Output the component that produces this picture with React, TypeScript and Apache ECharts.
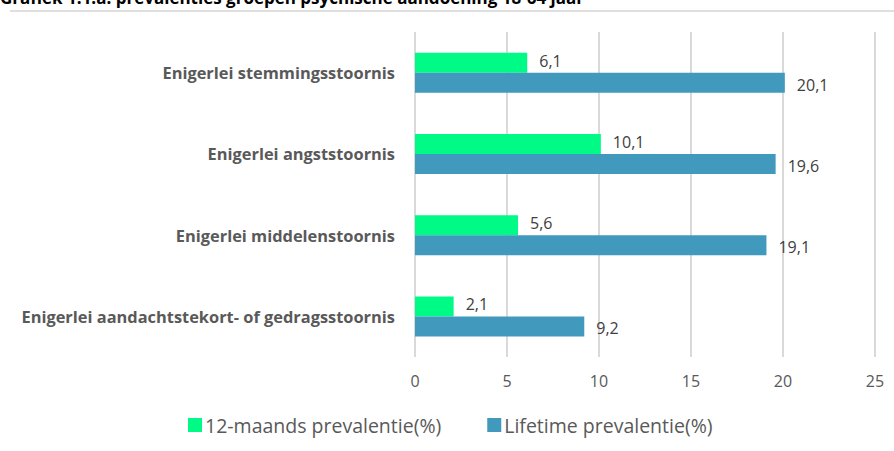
import React, { useEffect, useRef } from "react";
import * as echarts from "echarts";

const categories = [
  "Enigerlei stemmingsstoornis",
  "Enigerlei angststoornis",
  "Enigerlei middelenstoornis",
  "Enigerlei aandachtstekort- of gedragsstoornis",
];
const twelveMonth = [6.1, 10.1, 5.6, 2.1];
const lifetime = [20.1, 19.6, 19.1, 9.2];
const seriesNames = ["12-maands prevalentie(%)", "Lifetime prevalentie(%)"];
const titleText = "Grafiek 1.1.a. prevalenties groepen psychische aandoening 18-64 jaar";

const FONT = "'Open Sans', 'Liberation Sans', sans-serif";

export default function App() {
  const ref = useRef<HTMLDivElement>(null);
  useEffect(() => {
    if (!ref.current) return;
    const chart = echarts.init(ref.current, null, { renderer: "svg" });
    const fmt = (p: any) => String(p.value).replace(".", ",");
    chart.setOption({
      animation: false,
      textStyle: { fontFamily: FONT },
      title: {
        text: titleText,
        left: -5,
        top: -16,
        textStyle: { fontSize: 17, fontWeight: "bold", color: "#000", fontFamily: FONT },
      },
      graphic: [
        {
          type: "line",
          shape: { x1: 10, y1: 11, x2: 894, y2: 11 },
          style: { stroke: "#d4d4d4", lineWidth: 1.5 },
        },
      ],
      legend: {
        bottom: 11,
        left: 183,
        itemWidth: 14,
        itemHeight: 14,
        itemGap: 46,
        icon: "rect",
        textStyle: { fontSize: 19.5, color: "#595959", fontFamily: FONT, padding: [0, 0, 0, -2] },
        data: seriesNames,
      },
      grid: { left: 415, right: 19, top: 32, bottom: 94 },
      xAxis: {
        type: "value",
        min: 0,
        max: 25,
        interval: 5,
        axisLine: { show: false },
        axisTick: { show: false },
        axisLabel: { fontSize: 16, color: "#595959", margin: 16 },
        splitLine: { lineStyle: { color: "#d9d9d9", width: 2 } },
      },
      yAxis: {
        type: "category",
        inverse: true,
        data: categories,
        axisLine: { show: false },
        axisTick: { show: false },
        axisLabel: { fontSize: 16.4, fontWeight: "bold", color: "#595959", margin: 20 },
      },
      series: [
        {
          name: seriesNames[0],
          type: "bar",
          data: twelveMonth,
          barWidth: 20,
          barGap: "0%",
          itemStyle: { color: "#00fa86" },
          label: {
            show: true,
            position: "right",
            distance: 12,
            offset: [0, -2],
            fontSize: 16,
            color: "#404040",
            formatter: fmt,
          },
        },
        {
          name: seriesNames[1],
          type: "bar",
          data: lifetime,
          barWidth: 20,
          barGap: "0%",
          itemStyle: { color: "#4299be" },
          label: {
            show: true,
            position: "right",
            distance: 12,
            offset: [0, 2],
            fontSize: 16,
            color: "#404040",
            formatter: fmt,
          },
        },
      ],
    });
    return () => chart.dispose();
  }, []);
  return (
    <div
      ref={ref}
      style={{ position: "fixed", left: 0, top: 0, width: 894, height: 451, background: "#fff" }}
    />
  );
}
